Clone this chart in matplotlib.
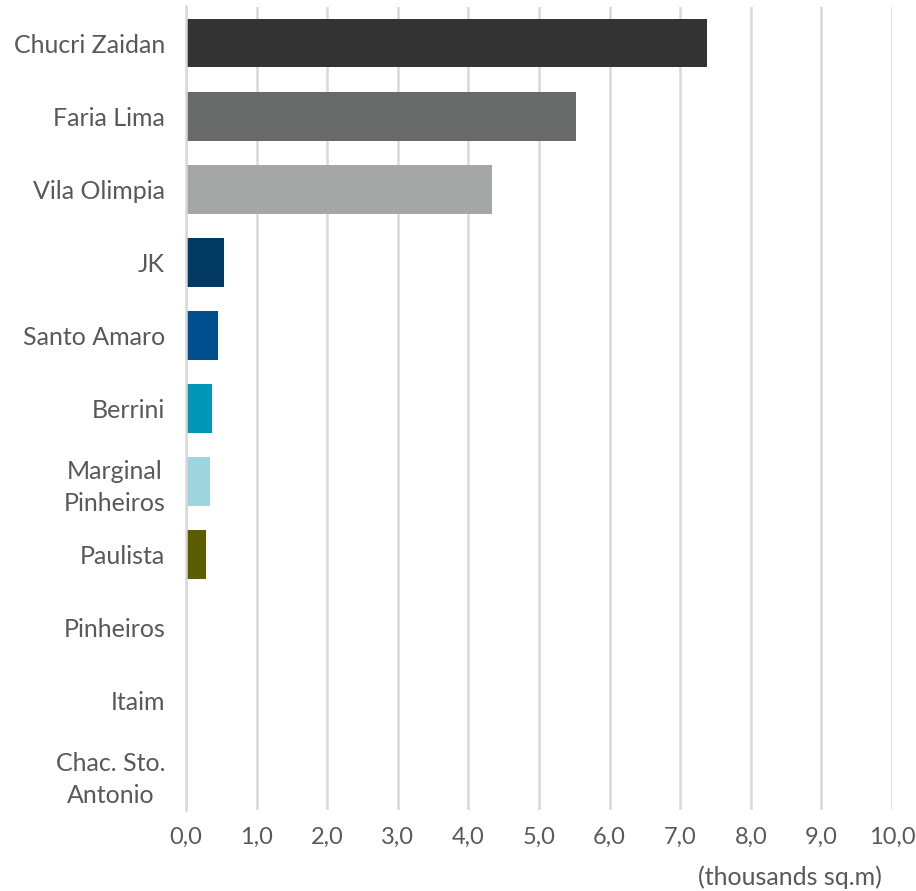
import matplotlib
matplotlib.use("Agg")
import matplotlib.pyplot as plt
from matplotlib.ticker import FuncFormatter

categories = ["Chucri Zaidan", "Faria Lima", "Vila Olimpia", "JK", "Santo Amaro",
              "Berrini", "Marginal\nPinheiros", "Paulista", "Pinheiros", "Itaim",
              "Chac. Sto.\nAntonio"]
values = [7.38, 5.53, 4.33, 0.54, 0.45, 0.37, 0.34, 0.28, 0.0, 0.0, 0.0]
colors = ["#333333", "#676a69", "#a5a7a7", "#033a63", "#00508f", "#0096b5",
          "#9dd4de", "#5b5e00", "#5b5e00", "#5b5e00", "#5b5e00"]
xticks = [0, 1, 2, 3, 4, 5, 6, 7, 8, 9, 10]
xlabel = "(thousands sq.m)"

plt.rcParams['font.family'] = ['Lato', 'DejaVu Sans']
fig = plt.figure(figsize=(9.16, 8.91), dpi=100)
ax = fig.add_axes([186/916, 1-810/891, (892-186)/916, (810-6.5)/891])

y = list(range(len(categories)))
ax.barh(y, values, height=0.67, color=colors, zorder=3)
ax.set_ylim(len(categories)-0.5, -0.5)
ax.set_xlim(0, 10)
ax.set_xticks(xticks)
ax.xaxis.set_major_formatter(FuncFormatter(lambda v, p: f"{v:.1f}".replace(".", ",")))
ax.set_yticks(y)
ax.set_yticklabels(categories, fontsize=18, color="#595959", linespacing=1.45,
                   multialignment="center")
ax.tick_params(axis='x', length=0, pad=12, labelsize=17, labelcolor="#595959")
ax.tick_params(axis='y', length=0, pad=15)
ax.grid(axis='x', color="#d9d9d9", linewidth=1.8, zorder=0)
for s in ["top", "right", "bottom"]:
    ax.spines[s].set_visible(False)
ax.spines["left"].set_color("#d9d9d9")
ax.spines["left"].set_linewidth(1.8)
ax.spines["left"].set_zorder(4)

fig.text(882/916, 1-877/891, xlabel, ha="right", va="center", fontsize=18, color="#595959")

fig.savefig("out.png", dpi=100)
